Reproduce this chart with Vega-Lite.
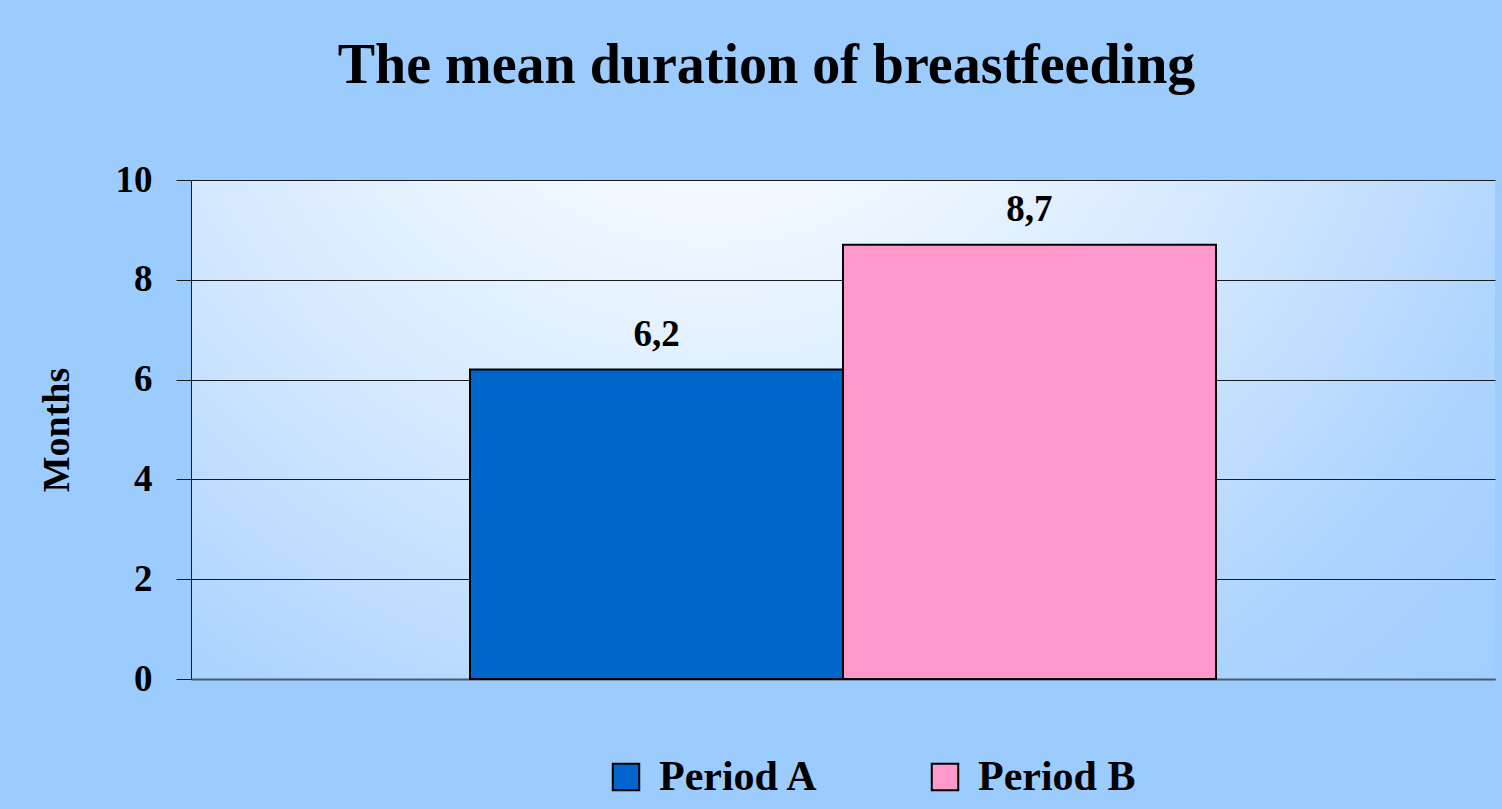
{
  "$schema": "https://vega.github.io/schema/vega-lite/v6.json",
  "width": 1304,
  "height": 499,
  "autosize": {"type": "none"},
  "padding": {"left": 191, "top": 180, "right": 7, "bottom": 130},
  "background": "#9ccbfe",
  "view": {
    "stroke": null,
    "fill": {
      "gradient": "radial",
      "x1": 0.4, "y1": 0.12, "r1": 0,
      "x2": 0.4, "y2": 0.12, "r2": 0.9,
      "stops": [
        {"offset": 0, "color": "#ffffff"},
        {"offset": 0.18, "color": "#f7fbff"},
        {"offset": 0.5, "color": "#d2e7ff"},
        {"offset": 0.75, "color": "#add4ff"},
        {"offset": 1, "color": "#99ccff"}
      ]
    }
  },
  "title": {
    "text": "The mean duration of breastfeeding",
    "anchor": "middle",
    "frame": "bounds",
    "baseline": "alphabetic",
    "offset": 22,
    "font": "Liberation Serif",
    "fontSize": 56,
    "fontWeight": "bold",
    "color": "#000000"
  },
  "data": {
    "values": [
      {"Period": "Period A", "Months": 6.2},
      {"Period": "Period B", "Months": 8.7}
    ]
  },
  "encoding": {
    "x": {
      "field": "Period",
      "type": "nominal",
      "scale": {"paddingInner": 0, "paddingOuter": 0.748},
      "axis": {
        "labels": false,
        "ticks": false,
        "title": null,
        "domain": true,
        "domainColor": "#4a5a72",
        "domainWidth": 2,
        "grid": false
      }
    },
    "y": {
      "field": "Months",
      "type": "quantitative",
      "scale": {"domain": [0, 10], "nice": false},
      "axis": {
        "title": "Months",
        "values": [0, 2, 4, 6, 8, 10],
        "format": "d",
        "grid": true,
        "gridColor": "#1a1a1a",
        "gridWidth": 1,
        "domainColor": "#1a1a1a",
        "domainWidth": 1,
        "tickColor": "#1a1a1a",
        "tickSize": 15,
        "tickWidth": 1,
        "labelFont": "Liberation Serif",
        "labelFontSize": 37,
        "labelFontWeight": "bold",
        "labelColor": "#000000",
        "labelPadding": 24,
        "titleFont": "Liberation Serif",
        "titleFontSize": 38,
        "titleFontWeight": "bold",
        "titleColor": "#000000",
        "titlePadding": 39
      }
    }
  },
  "layer": [
    {
      "mark": {"type": "bar", "stroke": "#000000", "strokeWidth": 2},
      "encoding": {
        "color": {
          "field": "Period",
          "type": "nominal",
          "scale": {"domain": ["Period A", "Period B"], "range": ["#0066cc", "#ff99cc"]},
          "legend": {
            "title": null,
            "orient": "none",
            "legendX": 414,
            "legendY": 576,
            "direction": "horizontal",
            "columns": 2,
            "columnPadding": 105,
            "symbolType": "square",
            "symbolSize": 700,
            "symbolStrokeColor": "#000000",
            "symbolStrokeWidth": 2,
            "symbolOpacity": 1,
            "labelFont": "Liberation Serif",
            "labelFontSize": 42,
            "labelFontWeight": "bold",
            "labelColor": "#000000",
            "labelOffset": 12
          }
        }
      }
    },
    {
      "mark": {
        "type": "text",
        "dy": -24,
        "baseline": "alphabetic",
        "font": "Liberation Serif",
        "fontSize": 37,
        "fontWeight": "bold",
        "color": "#000000"
      },
      "encoding": {
        "text": {"field": "Months", "type": "quantitative", "format": ".1f"}
      }
    }
  ],
  "config": {
    "locale": {
      "number": {"decimal": ",", "thousands": ".", "grouping": [3], "currency": ["", " €"]}
    }
  }
}
